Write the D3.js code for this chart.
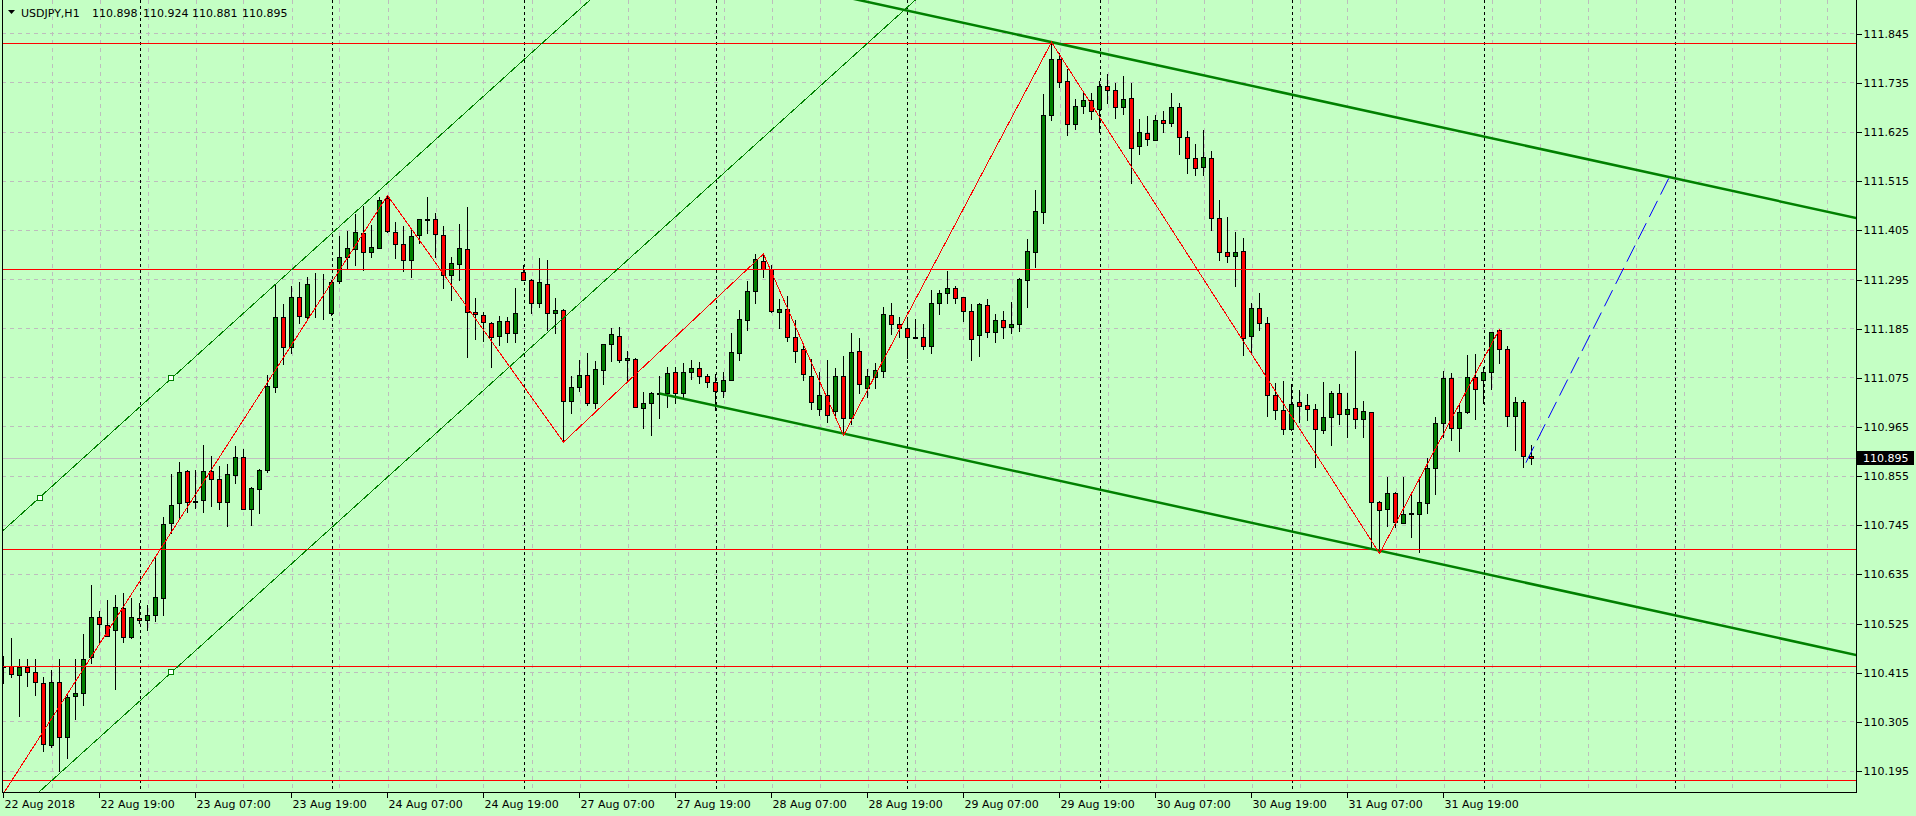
<!DOCTYPE html>
<head>
  <meta charset="utf-8" />
  <script src="https://d3js.org/d3.v7.min.js"></script>
  <style>
    body {
      margin: 0;
      background: #c4ffc4;
    }
    svg {
      display: block;
    }
    text {
      font-family: "DejaVu Sans", sans-serif;
      font-size: 11px;
      fill: #000;
    }
  </style>
</head>

<body>
  <script>
    var width = 1916,
      height = 816;
    var plotLeft = 2,
      plotRight = 1856,
      plotBottom = 792;

    var symbol = "USDJPY,H1";
    var lastOHLC = [110.898, 110.924, 110.881, 110.895];
    var lastPrice = 110.895;

    // H1 bars, 22 Aug 2018 07:00 -> 3 Sep 2018 06:00
    var open = [
      110.426,110.430,110.408,110.427,110.416,110.390,110.251,110.392,110.269,110.361,
      110.368,110.448,110.539,110.521,110.510,110.559,110.493,110.537,110.532,110.542,
      110.580,110.748,110.793,110.865,110.798,110.800,110.865,110.847,110.795,110.856,
      110.896,110.780,110.824,110.867,111.054,111.209,111.142,111.254,111.211,111.285,
      111.282,111.218,111.291,111.345,111.362,111.397,111.355,111.364,111.476,111.401,
      111.373,111.337,111.393,111.429,111.429,111.393,111.305,111.328,111.362,111.221,
      111.215,111.197,111.168,111.200,111.174,111.310,111.293,111.241,111.285,111.218,
      111.225,111.021,111.053,111.080,111.018,111.091,111.149,111.167,111.113,111.115,
      111.007,111.017,111.038,111.039,111.086,111.039,111.088,111.095,111.077,111.064,
      111.044,111.068,111.129,111.203,111.268,111.336,111.317,111.222,111.229,111.165,
      111.138,111.079,111.005,111.035,111.000,111.078,110.985,111.134,111.050,111.076,
      111.090,111.215,111.194,111.185,111.165,111.165,111.145,111.241,111.263,111.276,
      111.254,111.224,111.170,111.238,111.176,111.203,111.187,111.194,111.293,111.355,
      111.446,111.662,111.788,111.739,111.642,111.683,111.695,111.675,111.726,111.718,
      111.681,111.701,111.592,111.621,111.607,111.652,111.645,111.681,111.612,111.565,
      111.545,111.565,111.431,111.355,111.346,111.357,111.168,111.230,111.196,111.036,
      111.002,110.960,111.020,111.013,111.003,110.956,110.986,111.041,110.992,111.006,
      110.981,110.997,110.795,110.780,110.815,110.750,110.771,110.768,110.793,110.871,
      110.972,111.073,110.961,110.997,111.075,111.069,111.087,111.180,111.138,110.988,
      111.019,110.898
    ];
    var high = [
      110.451,110.491,110.444,110.444,110.444,110.404,110.420,110.444,110.369,110.444,
      110.501,110.610,110.553,110.577,110.588,110.593,110.580,110.571,110.565,110.674,
      110.763,110.859,110.886,110.868,110.868,110.924,110.899,110.877,110.880,110.921,
      110.914,110.829,110.869,111.080,111.282,111.239,111.280,111.288,111.300,111.309,
      111.306,111.293,111.391,111.403,111.440,111.459,111.416,111.478,111.482,111.422,
      111.414,111.409,111.430,111.479,111.442,111.414,111.344,111.418,111.456,111.252,
      111.222,111.199,111.212,111.211,111.276,111.327,111.294,111.342,111.338,111.252,
      111.227,111.077,111.114,111.129,111.112,111.150,111.185,111.187,111.134,111.118,
      111.042,111.043,111.079,111.097,111.099,111.106,111.114,111.109,111.082,111.082,
      111.086,111.174,111.226,111.291,111.350,111.351,111.327,111.250,111.257,111.203,
      111.151,111.115,111.088,111.114,111.095,111.123,111.175,111.162,111.093,111.106,
      111.233,111.241,111.209,111.211,111.205,111.194,111.271,111.271,111.314,111.279,
      111.255,111.239,111.242,111.250,111.217,111.224,111.243,111.297,111.385,111.494,
      111.709,111.825,111.800,111.765,111.697,111.711,111.712,111.739,111.753,111.733,
      111.749,111.734,111.653,111.659,111.662,111.671,111.712,111.689,111.627,111.598,
      111.628,111.582,111.471,111.434,111.401,111.386,111.241,111.264,111.210,111.063,
      111.067,111.059,111.046,111.037,111.015,111.065,111.045,111.059,111.039,111.134,
      111.022,110.998,110.798,110.852,110.819,110.852,110.812,110.845,110.894,110.987,
      111.090,111.084,111.017,111.125,111.127,111.099,111.177,111.183,111.145,111.030,
      111.024,110.924
    ];
    var low = [
      110.390,110.404,110.316,110.384,110.363,110.239,110.248,110.195,110.222,110.310,
      110.341,110.435,110.481,110.495,110.377,110.483,110.491,110.526,110.510,110.530,
      110.542,110.726,110.759,110.774,110.783,110.773,110.786,110.780,110.743,110.839,
      110.780,110.745,110.771,110.862,111.043,111.105,111.130,111.196,111.207,111.211,
      111.205,111.215,111.287,111.319,111.326,111.315,111.345,111.364,111.401,111.343,
      111.314,111.300,111.375,111.399,111.345,111.276,111.247,111.293,111.120,111.160,
      111.157,111.097,111.148,111.153,111.153,111.292,111.220,111.233,111.182,111.174,
      110.930,110.995,111.045,111.012,111.006,111.060,111.112,111.110,111.065,111.008,
      110.961,110.945,110.983,111.009,111.018,111.028,111.071,111.063,111.054,111.002,
      111.030,111.068,111.114,111.182,111.241,111.300,111.221,111.185,111.157,111.110,
      111.069,111.005,110.990,110.975,110.985,110.945,110.970,111.040,111.030,111.050,
      111.076,111.172,111.166,111.118,111.162,111.138,111.129,111.216,111.241,111.242,
      111.202,111.114,111.123,111.166,111.153,111.162,111.175,111.179,111.232,111.323,
      111.421,111.652,111.725,111.617,111.631,111.666,111.654,111.623,111.689,111.656,
      111.664,111.509,111.575,111.596,111.607,111.623,111.638,111.575,111.533,111.528,
      111.527,111.405,111.337,111.333,111.279,111.126,111.132,111.180,110.988,110.982,
      110.949,110.958,110.974,110.980,110.875,110.951,110.924,110.971,110.941,110.961,
      110.942,110.690,110.681,110.743,110.741,110.750,110.718,110.685,110.771,110.813,
      110.941,110.935,110.909,110.996,110.981,111.018,111.048,111.106,110.967,110.912,
      110.875,110.881
    ];
    var close = [
      110.429,110.410,110.427,110.415,110.392,110.254,110.394,110.271,110.359,110.369,
      110.444,110.538,110.523,110.497,110.562,110.493,110.539,110.532,110.542,110.584,
      110.746,110.789,110.862,110.795,110.797,110.865,110.847,110.795,110.858,110.896,
      110.780,110.827,110.867,111.056,111.211,111.142,111.254,111.212,111.285,111.283,
      111.281,111.289,111.345,111.364,111.400,111.355,111.366,111.471,111.403,111.373,
      111.337,111.391,111.429,111.428,111.395,111.305,111.330,111.364,111.221,111.216,
      111.198,111.165,111.200,111.174,111.218,111.293,111.241,111.288,111.218,111.225,
      111.021,111.053,111.080,111.018,111.093,111.149,111.171,111.113,111.118,111.009,
      111.017,111.039,111.039,111.084,111.039,111.088,111.095,111.077,111.065,111.044,
      111.068,111.131,111.205,111.268,111.339,111.317,111.223,111.229,111.165,111.135,
      111.082,111.020,111.035,110.990,111.078,110.985,111.132,111.060,111.078,111.091,
      111.217,111.194,111.185,111.165,111.164,111.145,111.241,111.263,111.276,111.252,
      111.224,111.160,111.239,111.177,111.203,111.187,111.194,111.295,111.358,111.447,
      111.662,111.788,111.737,111.642,111.683,111.695,111.670,111.726,111.719,111.681,
      111.699,111.589,111.624,111.608,111.652,111.645,111.681,111.614,111.567,111.543,
      111.568,111.431,111.355,111.346,111.356,111.163,111.230,111.197,111.036,111.002,
      110.960,111.015,111.011,111.004,110.959,110.986,111.041,110.992,111.003,110.981,
      110.999,110.795,110.777,110.815,110.752,110.768,110.770,110.795,110.871,110.972,
      111.073,110.961,110.997,111.075,111.048,111.087,111.176,111.138,110.988,111.019,
      110.898,110.895
    ];

    var timeLabels = ["22 Aug 2018", "22 Aug 19:00", "23 Aug 07:00", "23 Aug 19:00",
      "24 Aug 07:00", "24 Aug 19:00", "27 Aug 07:00", "27 Aug 19:00", "28 Aug 07:00",
      "28 Aug 19:00", "29 Aug 07:00", "29 Aug 19:00", "30 Aug 07:00", "30 Aug 19:00",
      "31 Aug 07:00", "31 Aug 19:00"];
    var timeLabelBars = [0, 12, 24, 36, 48, 60, 72, 84, 96, 108, 120, 132, 144, 156, 168, 180];
    var daySeparatorBars = [17, 41, 65, 89, 113, 137, 161, 185, 209];

    var priceTicks = [110.195, 110.305, 110.415, 110.525, 110.635, 110.745, 110.855, 110.965,
      111.075, 111.185, 111.295, 111.405, 111.515, 111.625, 111.735, 111.845];

    // horizontal levels (red)
    var levels = [111.824, 111.318, 110.691, 110.428, 110.174];

    // zigzag vertices [bar, price]
    var zigzag = [[-3, 110.06], [48, 111.482], [70, 110.930], [95, 111.351],
      [105, 110.945], [131, 111.825], [172, 110.681], [187, 111.183]];

    // rising channel (thin)
    var ascUpper = [[-5, 110.652], [75, 111.947]];
    var ascLower = [[-5, 109.994], [120, 112.017]];
    var ascAnchors = [[4.5, 110.806], [21, 111.073], [21, 110.415]];

    // falling channel (thick)
    var descUpper = [[82, 112.017], [232, 111.430]];
    var descLower = [[82, 111.039], [232, 110.452]];

    // projection (blue dashed)
    var projection = [[190.3, 110.884], [208.2, 111.522]];

    var x = d3.scaleLinear().domain([0, 100]).range([3.5, 803.5]);
    var y = d3.scaleLinear().domain([110.195, 111.845]).range([770.5, 33.3]);
    var px = function (v) { return Math.round(v) + 0.5; };

    var svg = d3.select("body").append("svg")
      .attr("width", width)
      .attr("height", height);

    svg.append("rect")
      .attr("width", width).attr("height", height)
      .attr("fill", "#c4ffc4");

    svg.append("clipPath").attr("id", "plot")
      .append("rect")
      .attr("x", plotLeft).attr("y", 0)
      .attr("width", plotRight - plotLeft).attr("height", plotBottom);

    var g = svg.append("g").attr("clip-path", "url(#plot)");

    // grid
    var gridBars = d3.range(6, 232, 6);
    g.selectAll(".vgrid").data(gridBars).join("line")
      .attr("x1", d => px(x(d))).attr("x2", d => px(x(d)))
      .attr("y1", 0).attr("y2", plotBottom)
      .attr("stroke", "#bdbdbd").attr("stroke-dasharray", "4,4")
      .attr("shape-rendering", "crispEdges");
    g.selectAll(".hgrid").data(priceTicks).join("line")
      .attr("x1", plotLeft).attr("x2", plotRight)
      .attr("y1", d => px(y(d))).attr("y2", d => px(y(d)))
      .attr("stroke", "#bdbdbd").attr("stroke-dasharray", "4,4")
      .attr("shape-rendering", "crispEdges");

    // day separators
    g.selectAll(".sep").data(daySeparatorBars).join("line")
      .attr("x1", d => px(x(d))).attr("x2", d => px(x(d)))
      .attr("y1", 0).attr("y2", plotBottom)
      .attr("stroke", "#000").attr("stroke-dasharray", "3,3")
      .attr("shape-rendering", "crispEdges");

    // current price line
    g.append("line")
      .attr("x1", plotLeft).attr("x2", plotRight)
      .attr("y1", px(y(lastPrice))).attr("y2", px(y(lastPrice)))
      .attr("stroke", "#c0c0c0")
      .attr("shape-rendering", "crispEdges");

    // candles
    var bars = d3.range(open.length);
    var candle = g.selectAll(".candle").data(bars).join("g");
    candle.append("line")
      .attr("x1", i => px(x(i) - 0.5)).attr("x2", i => px(x(i) - 0.5))
      .attr("y1", i => Math.round(y(high[i]))).attr("y2", i => Math.round(y(low[i])) + 1)
      .attr("stroke", "#000")
      .attr("shape-rendering", "crispEdges");
    candle.append("rect")
      .attr("x", i => px(x(i) - 0.5) - 2)
      .attr("y", i => px(y(Math.max(open[i], close[i]))))
      .attr("width", 4)
      .attr("height", i => Math.max(0, Math.round(y(Math.min(open[i], close[i]))) - Math.round(y(Math.max(open[i], close[i])))))
      .attr("fill", i => close[i] > open[i] ? "#008000" : "#ff0000")
      .attr("stroke", "#000")
      .attr("shape-rendering", "crispEdges");

    // objects
    var line = d3.line().x(d => x(d[0])).y(d => y(d[1]));

    levels.forEach(function (lv) {
      g.append("line")
        .attr("x1", plotLeft).attr("x2", plotRight)
        .attr("y1", px(y(lv))).attr("y2", px(y(lv)))
        .attr("stroke", "#ff0000")
        .attr("shape-rendering", "crispEdges");
    });

    [ascUpper, ascLower].forEach(function (pts) {
      g.append("path").attr("d", line(pts))
        .attr("fill", "none").attr("stroke", "#008000").attr("stroke-width", 1)
        .attr("shape-rendering", "crispEdges");
    });

    [descUpper, descLower].forEach(function (pts) {
      g.append("path").attr("d", line(pts))
        .attr("fill", "none").attr("stroke", "#008000").attr("stroke-width", 2.5);
    });

    g.append("path").attr("d", line(zigzag))
      .attr("fill", "none").attr("stroke", "#ff0000").attr("stroke-width", 1)
      .attr("shape-rendering", "crispEdges");

    g.selectAll(".anchor").data(ascAnchors).join("rect")
      .attr("x", d => Math.round(x(d[0])) - 2.5)
      .attr("y", d => Math.round(y(d[1])) - 2.5)
      .attr("width", 5).attr("height", 5)
      .attr("fill", "#ffffff").attr("stroke", "#008000")
      .attr("shape-rendering", "crispEdges");

    g.append("path").attr("d", line(projection))
      .attr("fill", "none").attr("stroke", "#0000ff").attr("stroke-width", 1)
      .attr("stroke-dasharray", "18,7");

    // border
    svg.append("path")
      .attr("d", "M" + (plotLeft + 0.5) + ",0V" + (plotBottom + 0.5) + "H" + (plotRight + 0.5) + "V0")
      .attr("fill", "none").attr("stroke", "#000")
      .attr("shape-rendering", "crispEdges");

    // price axis
    var yAxis = d3.axisRight(y)
      .tickValues(priceTicks)
      .tickSize(5)
      .tickPadding(2)
      .tickFormat(d3.format(".3f"));
    var ya = svg.append("g")
      .attr("transform", "translate(" + (plotRight + 0.5) + ",0.5)")
      .call(yAxis);
    ya.select(".domain").remove();
    ya.selectAll("line").attr("stroke", "#000").attr("shape-rendering", "crispEdges");
    ya.selectAll("text").attr("font-family", "DejaVu Sans").attr("font-size", 11).attr("fill", "#000");

    // time axis
    var xAxis = d3.axisBottom(x)
      .tickValues(timeLabelBars)
      .tickSize(5)
      .tickPadding(3)
      .tickFormat((d, i) => timeLabels[i]);
    var xa = svg.append("g")
      .attr("transform", "translate(-0.5," + (plotBottom + 0.5) + ")")
      .call(xAxis);
    xa.select(".domain").remove();
    xa.selectAll("line").attr("stroke", "#000").attr("shape-rendering", "crispEdges");
    xa.selectAll("text")
      .attr("text-anchor", "start")
      .attr("x", 1)
      .attr("font-family", "DejaVu Sans").attr("font-size", 11).attr("fill", "#000");

    // current price label
    svg.append("rect")
      .attr("x", plotRight + 1).attr("y", Math.round(y(lastPrice)) - 7)
      .attr("width", 57).attr("height", 14)
      .attr("fill", "#000");
    svg.append("text")
      .attr("x", plotRight + 7).attr("y", y(lastPrice))
      .attr("dy", "0.35em")
      .style("fill", "#ffffff")
      .text(d3.format(".3f")(lastPrice));

    // title
    svg.append("path")
      .attr("d", "M8,10L15,10L11.5,14Z")
      .attr("fill", "#000");
    var title = svg.append("text").attr("y", 17);
    title.append("tspan").attr("x", 21).text(symbol);
    var titleX = [92, 143, 192, 242];
    lastOHLC.forEach(function (v, i) {
      title.append("tspan").attr("x", titleX[i]).text(d3.format(".3f")(v));
    });
  </script>
</body>
